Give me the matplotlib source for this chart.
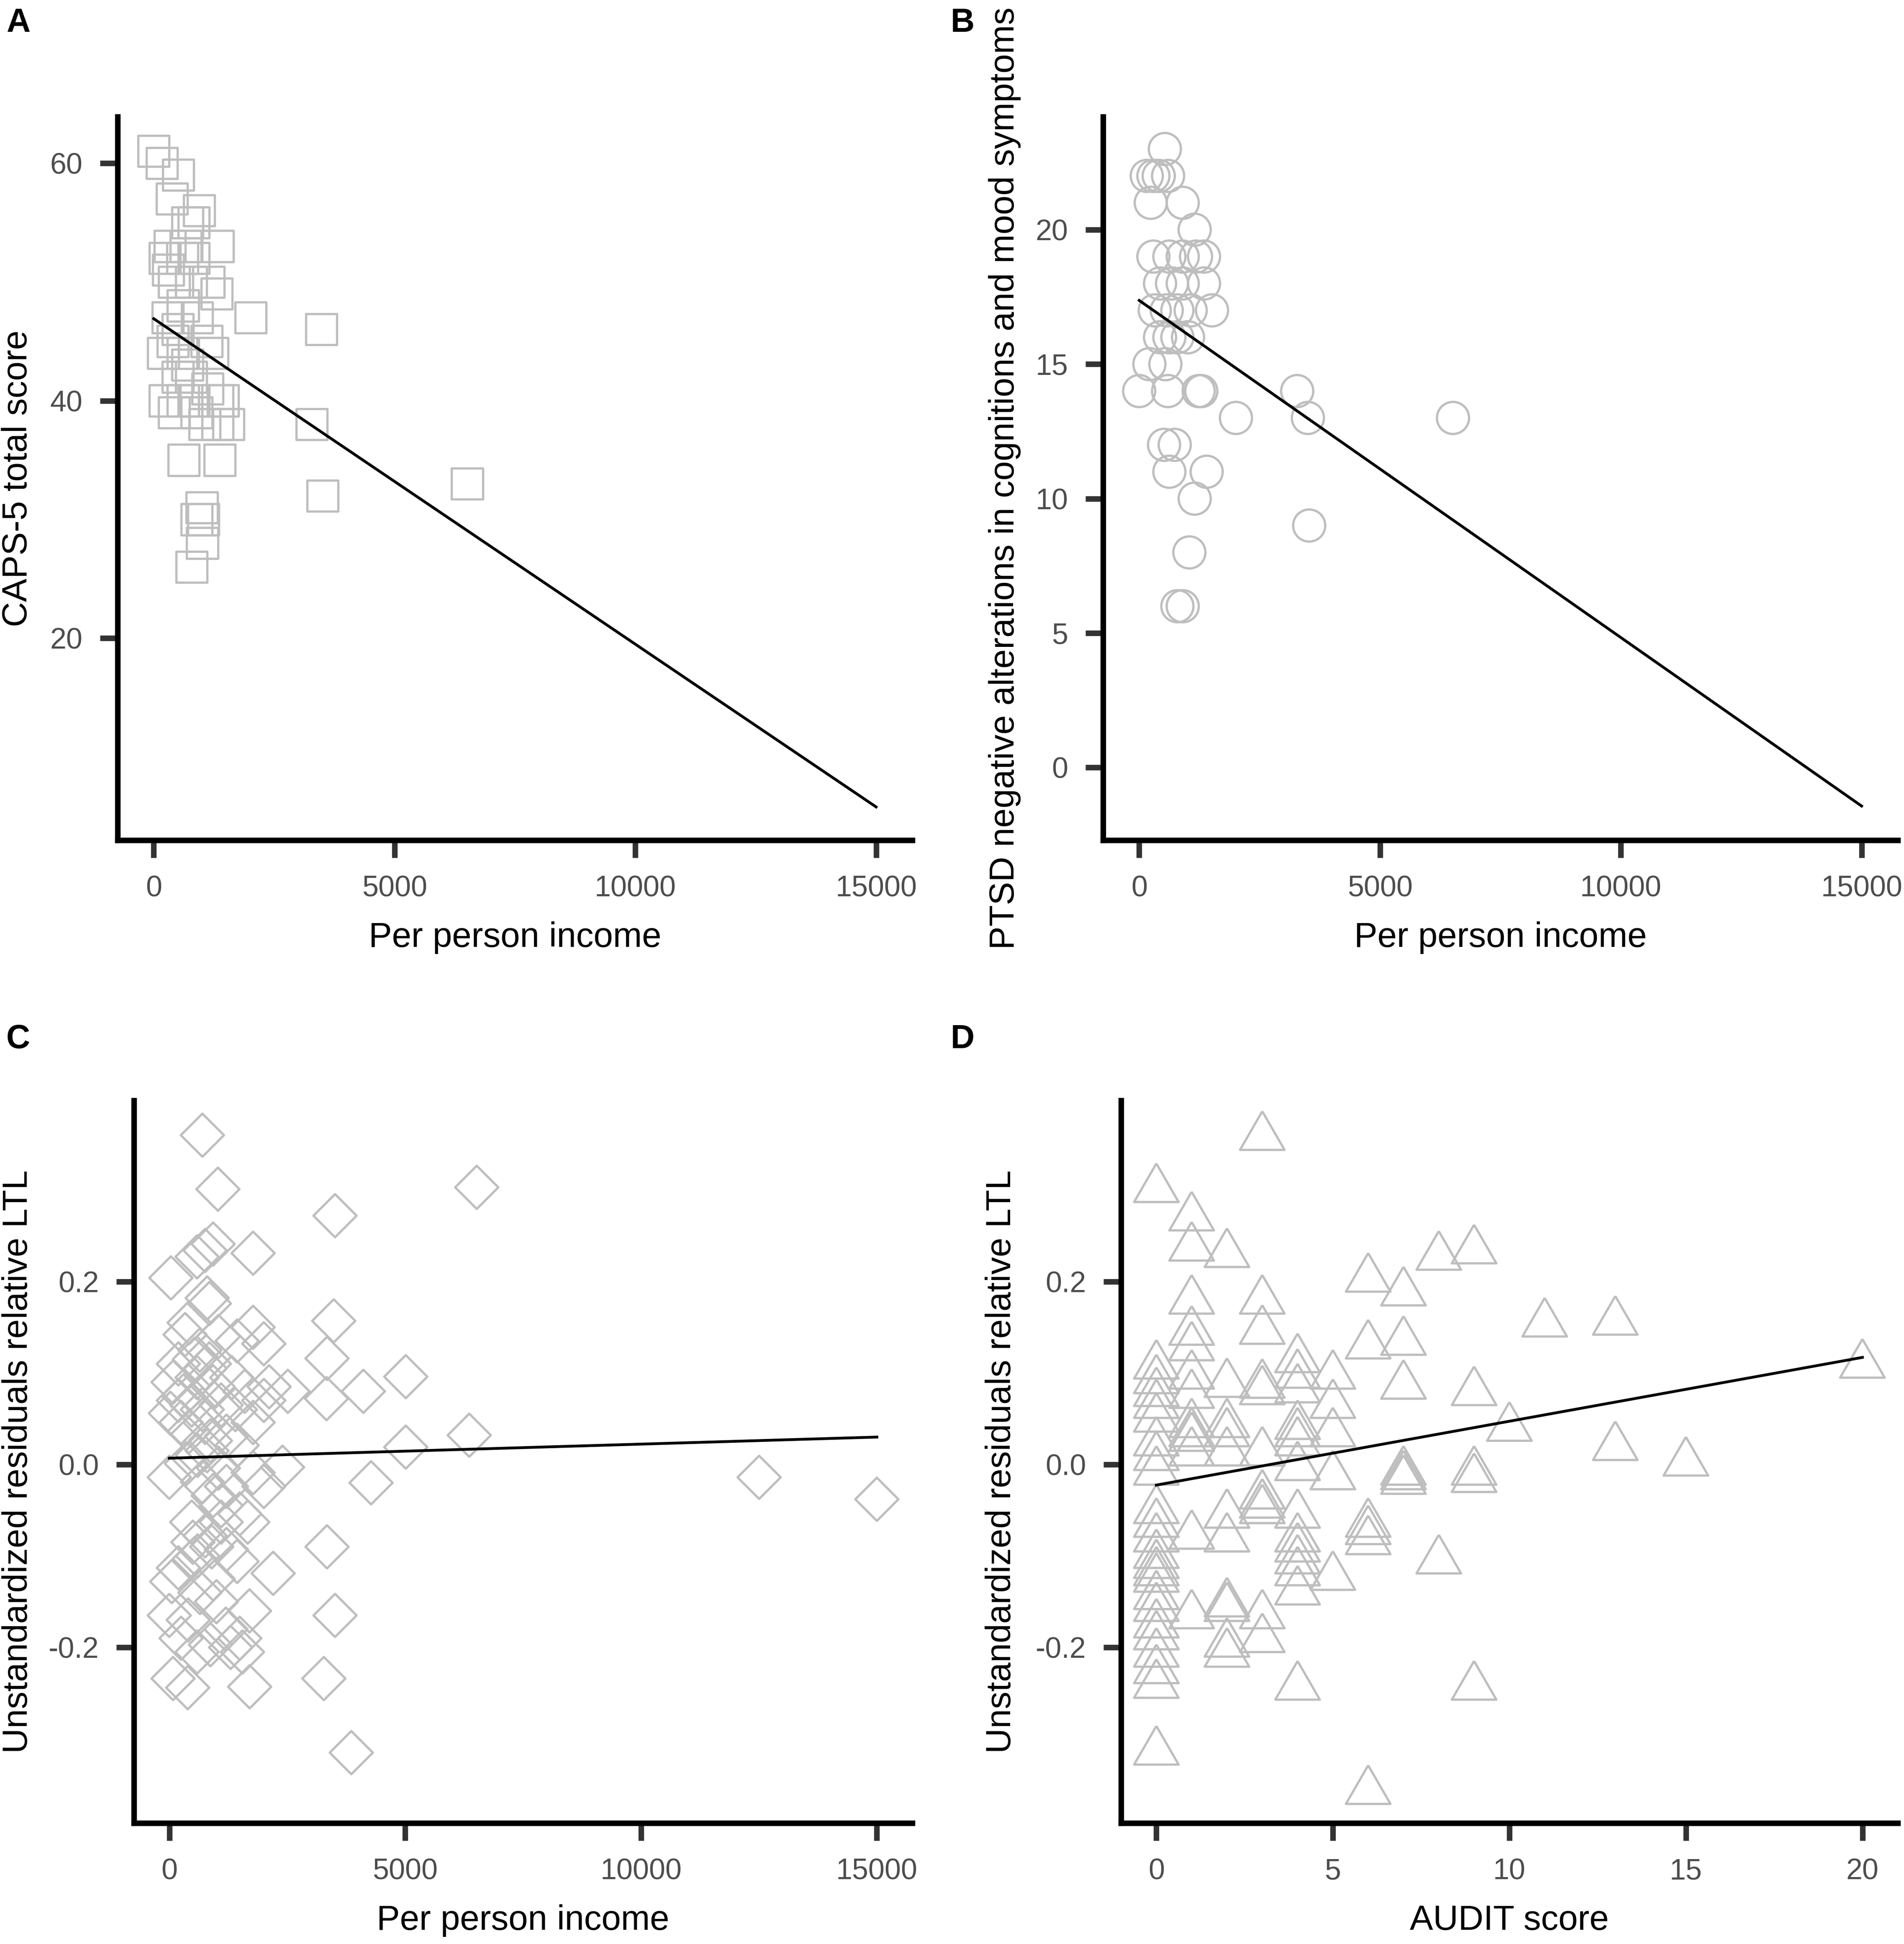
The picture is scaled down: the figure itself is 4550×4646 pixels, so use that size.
import numpy as np
import matplotlib.pyplot as plt

plt.rcParams['font.family'] = ['Liberation Sans', 'DejaVu Sans']

# ---- Panel A: per person income vs CAPS-5 total score
a_income = [0, 170, 513, 380, 944, 700, 830, 336, 668, 1331, 230, 600, 830, 420, 780,
            1140, 1310, 610, 290, 2010, 3480, 500, 200, 610, 1220, 780, 500, 230, 610,
            830, 1330, 1440, 420, 890, 1060, 1330, 1550, 3280, 620, 1370, 3510, 6510,
            1000, 1030, 890, 1010, 790, 300, 900, 1100, 400, 1120, 700]
a_caps = [61, 60, 59, 57, 56, 55, 55, 53, 53, 53, 52, 52, 52, 50, 50,
          50, 49, 48, 47, 47, 46, 46, 44, 44, 44, 42, 42, 40, 40,
          40, 40, 40, 39, 39, 38, 38, 38, 38, 35, 35, 32, 33,
          31, 30, 30, 28, 26, 51, 47, 45, 45, 41, 43]
a_fit = [46.9, -41.1 / 15000]

# ---- Panel B: per person income vs PTSD negative alterations
b_income = [533, 157, 295, 406, 600, 240, 904, 1152, 295, 627, 904, 1180, 1346,
            433, 682, 904, 1346, 323, 572, 793, 1069, 1512, 433, 627, 793, 1014,
            212, 544, 0, 600, 1235, 1290, 2009, 3281, 3503, 6516, 516, 738, 627,
            1401, 1152, 3530, 1042, 793, 904]
b_ptsd = [23, 22, 22, 22, 22, 21, 21, 20, 19, 19, 19, 19, 19,
          18, 18, 18, 18, 17, 17, 17, 17, 17, 16, 16, 16, 16,
          15, 15, 14, 14, 14, 14, 13, 14, 13, 13, 12, 12, 11,
          11, 10, 9, 8, 6, 6]
b_fit = [17.37, -18.8 / 15000]

# ---- Panel C: per person income vs residual LTL
c_income = [702, 1031, 6518, 3514, 759, 929, 589, 1777, 35, 804, 850, 3486, 1777, 2004,
            420, 335, 3344, 5013, 193, 533, 2117, 2513, 3333, 4114, 5013, 6359, 2400,
            4278, 0, 2202, 3344, 3514, 3276, 3859, 1704, 80, 391, 0, 1494, 1551, 872,
            589, 250, 52, 193, 929, 533, 1212, 1438, 476, 759, 1099, 1494, 1664, 2004,
            1777, 1212, 702, 929, 363, 1042, 80, 193, 24, 250, 420, 589, 759, 929, 1099,
            1325, 872, 1212, 1438, 759, 476, 1777, 2004, 1438, 1042, 646, 12504, 15000,
            600, 700, 850, 1000, 650, 400, 1200, 1300, 900, 600, 1700, 1600,
            300, 1100, 800, 1400, 500]
c_resid = [0.360, 0.301, 0.303, 0.272, 0.234, 0.241, 0.227, 0.231, 0.204, 0.182, 0.176,
           0.157, 0.150, 0.132, 0.155, 0.142, 0.116, 0.096, 0.110, 0.115, 0.085, 0.080,
           0.072, 0.080, 0.019, 0.032, -0.003, -0.020, -0.014, -0.119, -0.090, -0.165,
           -0.234, -0.315, -0.243, -0.234, -0.244, -0.165, -0.190, -0.205, -0.197, -0.205,
           -0.190, -0.128, -0.113, -0.125, -0.103, -0.093, -0.106, -0.063, -0.078, -0.063,
           -0.054, -0.063, -0.024, -0.009, -0.024, -0.019, -0.034, 0.001, -0.004, 0.090,
           0.070, 0.056, 0.046, 0.036, 0.095, 0.105, 0.085, 0.065, 0.095, 0.026, 0.031,
           0.021, 0.046, 0.065, 0.046, 0.070, 0.135, 0.140, 0.125, -0.014, -0.038,
           0.010, 0.060, 0.110, -0.150, -0.140, -0.170, -0.180, -0.200, -0.090, -0.100,
           -0.160, 0.080,
           0.075, -0.045, 0.015, 0.060, -0.085]
c_fit = [0.0069, 0.0231 / 15000]

# ---- Panel D: AUDIT score vs residual LTL
d_audit = ([0] * 24 + [1] * 13 + [2] * 11 + [3] * 11 + [4] * 14 + [5] * 5 + [6] * 6
           + [7] * 6 + [8] * 2 + [9] * 5 + [10, 11, 13, 13, 15, 20])
d_resid = [0.301, 0.108, 0.092, 0.078, 0.065, 0.050, 0.024, 0.008, -0.008, -0.050,
           -0.065, -0.081, -0.099, -0.110, -0.118, -0.125, -0.144, -0.157, -0.175,
           -0.188, -0.207, -0.225, -0.241, -0.314,
           0.270, 0.237, 0.179, 0.145, 0.128, 0.097, 0.076, 0.044, 0.034, 0.029, 0.013,
           -0.078, -0.165,
           0.230, 0.088, 0.044, 0.034, 0.013, -0.055, -0.081, -0.152, -0.157, -0.196, -0.207,
           0.358, 0.179, 0.146, 0.087, 0.080, 0.013, -0.034, -0.044, -0.050, -0.165, -0.191,
           0.115, 0.098, 0.082, 0.042, 0.034, 0.024, -0.003, -0.055, -0.081, -0.092, -0.105,
           -0.118, -0.139, -0.243,
           0.097, 0.065, 0.034, -0.013, -0.123,
           0.203, 0.130, -0.065, -0.073, -0.084, -0.357,
           0.188, 0.134, 0.086, -0.008, -0.013, -0.018,
           0.227, -0.105,
           0.234, 0.079, -0.008, -0.016, -0.243,
           0.040, 0.154, 0.156, 0.019, 0.002, 0.109]
d_fit = [-0.0225, 0.00698]

income_ticks = [0, 5000, 10000, 15000]
income_range = [0, 15000]

W, H = 4550, 4646
fig = plt.figure(figsize=(W / 300, H / 300), dpi=300)

grey_pt = '#BEBEBE'
tri = [(0, 1), (-0.866, -0.5), (0.866, -0.5), (0, 1)]


def make_ax(left, top, right, bottom):
    ax = fig.add_axes([left / W, 1 - bottom / H, (right - left) / W, (bottom - top) / H])
    for s in ['top', 'right']:
        ax.spines[s].set_visible(False)
    for s in ['left', 'bottom']:
        ax.spines[s].set_linewidth(3.2)
        ax.spines[s].set_color('black')
    ax.tick_params(length=10, width=3.2, color='#333333', labelcolor='#4D4D4D',
                   labelsize=16.8, pad=10)
    return ax


def draw_fit(ax, fit, xr):
    xs = np.array(xr, dtype=float)
    ax.plot(xs, fit[0] + fit[1] * xs, color='black', lw=1.6, zorder=3)


panels = [
    # ax box, x, y, marker, size, fit, fit range, xlim, ylim, yticks, xticks, xlabel, ylabel, label xy
    ((281, 279, 2180, 2008), a_income, a_caps, 's', 317, a_fit, income_range,
     (-750, 15750), (3.0, 63.9), [20, 40, 60], income_ticks,
     'Per person income', 'CAPS-5 total score', -0.126, 'A', 15, 18),
    ((2636, 279, 4535, 2008), b_income, b_ptsd, 'o', 339, b_fit, income_range,
     (-750, 15750), (-2.7, 24.2), [0, 5, 10, 15, 20], income_ticks,
     'Per person income', 'PTSD negative alterations in cognitions and mood symptoms',
     -0.124, 'B', 2272, 18),
    ((320, 2630, 2180, 4357), c_income, c_resid, 'D', 306, c_fit, income_range,
     (-750, 15750), (-0.392, 0.398), [-0.2, 0.0, 0.2], income_ticks,
     'Per person income', 'Unstandardized residuals relative LTL', -0.149, 'C', 15, 2447),
    ((2679, 2630, 4535, 4357), d_audit, d_resid, tri, 870, d_fit, [0, 20],
     (-1, 21), (-0.392, 0.398), [-0.2, 0.0, 0.2], [0, 5, 10, 15, 20],
     'AUDIT score', 'Unstandardized residuals relative LTL', -0.154, 'D', 2272, 2447),
]

for (box, xv, yv, mk, sz, fit, fr, xl, yl, yt, xt, xlab, ylab, ylx, letter, lx, ly) in panels:
    ax = make_ax(*box)
    ax.scatter(xv, yv, marker=mk, s=sz, facecolors='none', edgecolors=grey_pt,
               linewidths=1.3, zorder=2)
    draw_fit(ax, fit, fr)
    ax.set_xlim(*xl)
    ax.set_ylim(*yl)
    ax.set_yticks(yt)
    ax.set_xticks(xt)
    if isinstance(yt[0], float):
        ax.set_yticklabels([f'{v:.1f}' for v in yt])
    ax.set_xlabel(xlab, fontsize=20, color='black')
    ax.set_ylabel(ylab, fontsize=20, color='black')
    ax.xaxis.label.set_va('center')
    ax.yaxis.label.set_va('center')
    ax.xaxis.set_label_coords(0.5, -0.135)
    ax.yaxis.set_label_coords(ylx, 0.5)
    fig.text(lx / W, 1 - ly / H, letter, fontsize=19, fontweight='bold', ha='left', va='top',
             family=['Liberation Sans Narrow', 'Liberation Sans'])

fig.savefig('out.png', dpi=300, facecolor='white')
